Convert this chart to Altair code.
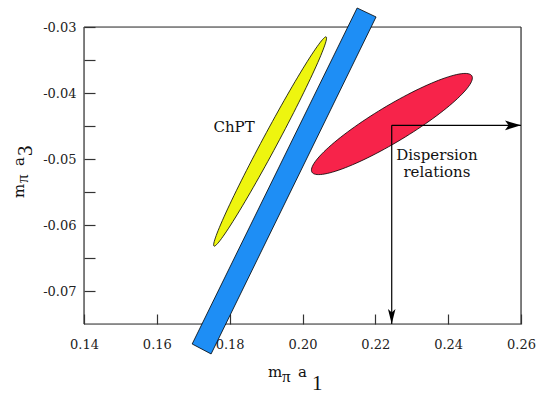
import altair as alt
import numpy as np
import pandas as pd

# ---------------- data ----------------
x_domain = [0.14, 0.26]
y_domain = [-0.075, -0.03]
x_ticks = [0.14, 0.16, 0.18, 0.20, 0.22, 0.24, 0.26]
y_ticks = [-0.07, -0.065, -0.06, -0.055, -0.05, -0.045, -0.04, -0.035, -0.03]

# blue band (corners, data units)
band_x = [0.2150, 0.2202, 0.1749, 0.1697]
band_y = [-0.02712, -0.02848, -0.07954, -0.07803]

# yellow ChPT ellipse: tips of major axis
chpt_tip_x = [0.1757, 0.2065]
chpt_tip_y = [-0.0632, -0.0315]

# red dispersion-relation ellipse: tips of major axis
disp_tip_x = [0.2026, 0.2465]
disp_tip_y = [-0.0520, -0.0374]

# arrows from dispersion result
arrow_x = [0.2245]
arrow_y = [-0.0449]

# labels
label_text = ["ChPT", "Dispersion", "relations"]
label_x = [0.1812, 0.2369, 0.2369]
label_y = [-0.0459, -0.05015, -0.05273]

x_title_parts = ["m", "π", "a", "1"]
y_title_parts = ["m", "π", "a", "3"]

# ---------------- layout ----------------
W, H = 437, 297
sx = W / (x_domain[1] - x_domain[0])
sy = H / (y_domain[1] - y_domain[0])


def ellipse(tx, ty, half_minor_px, n=120):
    p1 = np.array([tx[0] * sx, ty[0] * sy])
    p2 = np.array([tx[1] * sx, ty[1] * sy])
    c = (p1 + p2) / 2
    u = (p2 - p1) / 2
    a = np.linalg.norm(u)
    u = u / a
    v = np.array([-u[1], u[0]])
    t = np.linspace(0, 2 * np.pi, n, endpoint=False)
    pts = c + (a * np.cos(t))[:, None] * u + (half_minor_px * np.sin(t))[:, None] * v
    return pd.DataFrame({"x": pts[:, 0] / sx, "y": pts[:, 1] / sy, "i": np.arange(n)})


xs = alt.Scale(domain=x_domain, nice=False, zero=False)
ys = alt.Scale(domain=y_domain, nice=False, zero=False)

x_axis = alt.Axis(values=x_ticks, format=".2f", title=None, grid=False, domain=False,
                  tickSize=10, offset=-10, tickColor="#333", tickWidth=1.2,
                  labelFont="DejaVu Serif", labelFontSize=13, labelColor="#222",
                  labelPadding=14, labelFlush=False, labelOverlap=False)
y_axis = alt.Axis(values=y_ticks, title=None, grid=False, domain=False,
                  tickSize=11, offset=-11, tickColor="#333", tickWidth=1.2,
                  labelExpr="abs(round(datum.value*200)) % 2 == 0 ? '-' + format(abs(datum.value), '.2f') : ''",
                  labelFont="DejaVu Serif", labelFontSize=13, labelColor="#222",
                  labelPadding=8, labelFlush=False, labelOverlap=False)


def X(f="x", **kw):
    return alt.X(f"{f}:Q", scale=xs, axis=x_axis, **kw)


def Y(f="y", **kw):
    return alt.Y(f"{f}:Q", scale=ys, axis=y_axis, **kw)


# frame
frame_df = pd.DataFrame({
    "x": [x_domain[0], x_domain[0], x_domain[0], x_domain[1]],
    "x2": [x_domain[1], x_domain[1], x_domain[0], x_domain[1]],
    "y": [y_domain[1], y_domain[0], y_domain[0], y_domain[0]],
    "y2": [y_domain[1], y_domain[0], y_domain[1], y_domain[1]],
})
frame = alt.Chart(frame_df).mark_rule(color="#333", strokeWidth=1.2).encode(
    x=X(), x2="x2:Q", y=Y(), y2="y2:Q")

band_df = pd.DataFrame({"x": band_x, "y": band_y, "i": range(len(band_x))})
band = alt.Chart(band_df).mark_line(fill="#1E8EF5", stroke="black", strokeWidth=0.8,
                                     interpolate="linear-closed").encode(
    x=X(), y=Y(), order="i:Q")

chpt = alt.Chart(ellipse(chpt_tip_x, chpt_tip_y, 7.5)).mark_line(
    fill="#EEF50F", stroke="black", strokeWidth=0.8, interpolate="linear-closed").encode(
    x=X(), y=Y(), order="i:Q")

disp = alt.Chart(ellipse(disp_tip_x, disp_tip_y, 18)).mark_line(
    fill="#F7234A", stroke="black", strokeWidth=0.8, interpolate="linear-closed").encode(
    x=X(), y=Y(), order="i:Q")

arr_df = pd.DataFrame({"x": arrow_x, "y": arrow_y, "xe": [x_domain[1]], "ye": [y_domain[0]]})
h_line = alt.Chart(arr_df).mark_rule(color="black", strokeWidth=1.2).encode(
    x=X(), x2="xe:Q", y=Y())
v_line = alt.Chart(arr_df).mark_rule(color="black", strokeWidth=1.2).encode(
    x=X(), y=Y(), y2="ye:Q")
h_head = alt.Chart(arr_df).mark_point(
    shape="M1,0 L-1,-0.6 L-0.55,0 L-1,0.6 Z", filled=True, fill="black", opacity=1,
    size=256, strokeWidth=0, xOffset=-8).encode(x=X("xe"), y=Y())
v_head = alt.Chart(arr_df).mark_point(
    shape="M0,1 L-0.5,-1 L0,-0.55 L0.5,-1 Z", filled=True, fill="black", opacity=1,
    size=225, strokeWidth=0, yOffset=-7.5).encode(x=X(), y=Y("ye"))

lab_df = pd.DataFrame({"x": label_x, "y": label_y, "t": label_text})
labels = alt.Chart(lab_df).mark_text(font="DejaVu Serif", fontSize=15, color="#111",
                                     align="center", baseline="alphabetic").encode(
    x=X(), y=Y(), text="t:N")

# axis titles (pixel placement of pieces)
xt_df = pd.DataFrame({"t": x_title_parts, "px": [184, 198, 214, 228], "py": [350, 355, 350, 363],
                      "fs": [15, 17, 15, 21]})
yt_df = pd.DataFrame({"t": y_title_parts, "px": [-60, -56, -60, -52], "py": [171, 156, 139, 129],
                      "fs": [15, 17, 15, 21]})


def title_layer(df, angle):
    layers = []
    for _, r in df.iterrows():
        font = "DejaVu Serif" if r["t"] in ("m", "a") else "Liberation Serif"
        layers.append(
            alt.Chart(pd.DataFrame({"t": [r["t"]]})).mark_text(
                font=font, fontSize=int(r["fs"]), color="#111", align="left",
                baseline="alphabetic", angle=angle).encode(
                x=alt.value(float(r["px"])), y=alt.value(float(r["py"])), text="t:N"))
    return layers


chart = alt.layer(
    frame, chpt, band, disp, h_line, v_line, h_head, v_head, labels,
    *title_layer(xt_df, 0), *title_layer(yt_df, 270)
).properties(
    width=W, height=H,
    autosize=alt.AutoSizeParams(type="none"),
    padding={"left": 84, "top": 27, "right": 20, "bottom": 70},
).configure_view(stroke=None).configure(background="white")

chart.save("out.html", embed_options={"renderer": "svg", "actions": False})
